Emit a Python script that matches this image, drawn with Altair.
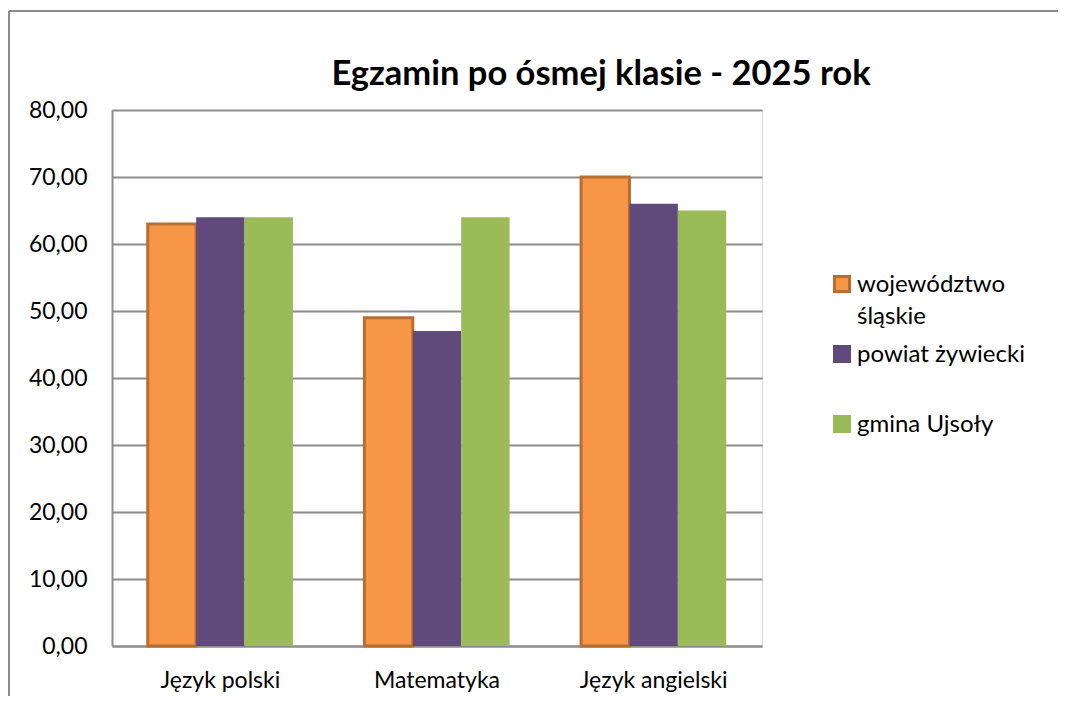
import altair as alt
import pandas as pd

title_text = "Egzamin po ósmej klasie - 2025 rok"
categories = ["Język polski", "Matematyka", "Język angielski"]
series = ["województwo śląskie", "powiat żywiecki", "gmina Ujsoły"]
woj = [63, 49, 70]
powiat = [64, 47, 66]
gmina = [64, 64, 65]
y_ticks = [0, 10, 20, 30, 40, 50, 60, 70, 80]

fill_colors = ["#F79646", "#604A7B", "#9BBB59"]
stroke_colors = ["#B86E30", "#604A7B", "#9BBB59"]

rows = []
for s, vals in zip(series, [woj, powiat, gmina]):
    for c, v in zip(categories, vals):
        rows.append({"kategoria": c, "seria": s, "wartosc": v})
df = pd.DataFrame(rows)

FONT = "Lato"
GRID = "#8C8C8C"
LABEL_DY = 8

legend_label_expr = (
    "datum.label == 'województwo śląskie' ? ['województwo', 'śląskie'] : [datum.label, '']"
)

bars = alt.Chart(df).mark_bar().encode(
    x=alt.X("kategoria:N", sort=categories, title=None,
            scale=alt.Scale(paddingInner=0.33, paddingOuter=0.165),
            axis=alt.Axis(labelAngle=0, labelFontSize=23, labelFont=FONT, labelColor="#000000",
                          labelBaseline="alphabetic", labelPadding=41 - LABEL_DY, ticks=False,
                          domainColor=GRID, domainWidth=2, grid=False)),
    xOffset=alt.XOffset("seria:N", sort=series, scale=alt.Scale(paddingInner=0, paddingOuter=0)),
    y=alt.Y("wartosc:Q", title=None,
            scale=alt.Scale(domain=[0, 80], nice=False),
            axis=alt.Axis(values=y_ticks, labelExpr="replace(format(datum.value, '.2f'), '.', ',')",
                          labelFontSize=23, labelFont=FONT, labelColor="#000000", labelPadding=25,
                          labelOffset=-LABEL_DY,
                          ticks=False, domainColor=GRID, domainWidth=2,
                          grid=True, gridColor=GRID, gridWidth=2)),
    color=alt.Color("seria:N", sort=series,
                    scale=alt.Scale(domain=series, range=fill_colors),
                    legend=alt.Legend(title=None, orient="none", legendX=718, legendY=162,
                                      symbolType="square", symbolSize=225, symbolStrokeWidth=3,
                                      labelFont=FONT, labelFontSize=24, labelColor="#000000",
                                      labelOffset=3, labelBaseline="alphabetic",
                                      labelExpr=legend_label_expr,
                                      rowPadding=11, padding=0, labelLimit=300)),
    stroke=alt.Stroke("seria:N", sort=series,
                      scale=alt.Scale(domain=series, range=stroke_colors)),
    strokeWidth=alt.condition(alt.datum.seria == "województwo śląskie", alt.value(3), alt.value(0)),
)

title = alt.Chart(pd.DataFrame({"t": [title_text]})).mark_text(
    font=FONT, fontSize=34.5, fontWeight="bold", color="#000000", align="center",
    baseline="alphabetic").encode(text="t:N", x=alt.value(489), y=alt.value(-25))

border_v = alt.Chart(pd.DataFrame({"a": [0]})).mark_rule(color=GRID, strokeWidth=2).encode(
    x=alt.value(-103), y=alt.value(-99), y2=alt.value(700))
border_h = alt.Chart(pd.DataFrame({"a": [0]})).mark_rule(color=GRID, strokeWidth=2).encode(
    x=alt.value(-103), x2=alt.value(962), y=alt.value(-99))

chart = alt.layer(bars, title, border_v, border_h).properties(
    width=650, height=536,
    padding={"left": 104, "top": 102, "right": 296, "bottom": 50},
    autosize=alt.AutoSizeParams(type="none"),
).configure_view(stroke=None).configure(
    background="#FFFFFF",
    style={"guide-label": {"lineHeight": 32, "dy": LABEL_DY}},
)

chart.save("out.html", embed_options={"renderer": "svg", "actions": False})
